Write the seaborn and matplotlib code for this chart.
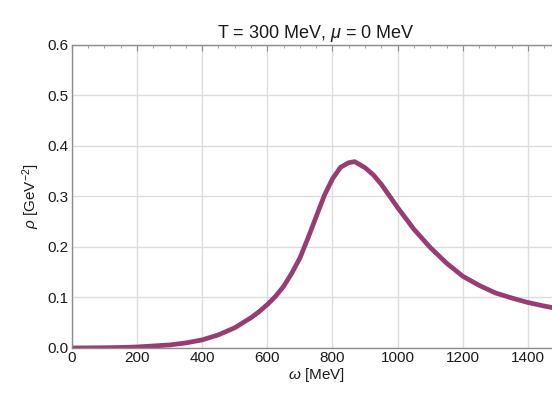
import matplotlib
matplotlib.use("Agg")
import matplotlib.pyplot as plt
from matplotlib.ticker import MultipleLocator
import seaborn as sns
import pandas as pd

# spectral function
omega = [0, 50, 100, 150, 200, 250, 300, 350, 400, 450, 500, 550, 575, 600,
         625, 650, 675, 700, 725, 750, 775, 800, 825, 850, 868, 900, 925, 950,
         1000, 1050, 1100, 1150, 1200, 1250, 1300, 1350, 1400, 1450, 1500]
rho = [0.0, 0.0002, 0.0005, 0.001, 0.002, 0.004, 0.006, 0.010, 0.016, 0.026,
       0.040, 0.060, 0.072, 0.086, 0.102, 0.122, 0.148, 0.178, 0.218, 0.260,
       0.302, 0.335, 0.358, 0.367, 0.369, 0.357, 0.343, 0.324, 0.278, 0.235,
       0.199, 0.168, 0.142, 0.124, 0.109, 0.099, 0.090, 0.083, 0.077]

x_ticks = [0, 200, 400, 600, 800, 1000, 1200, 1400]
y_ticks = [0.0, 0.1, 0.2, 0.3, 0.4, 0.5, 0.6]

sns.set_style("white")
plt.rcParams['font.family'] = ['Liberation Sans', 'DejaVu Sans']
plt.rcParams['mathtext.fontset'] = 'custom'
plt.rcParams['mathtext.it'] = 'Liberation Sans:italic'
plt.rcParams['mathtext.rm'] = 'Liberation Sans'

df = pd.DataFrame({'omega': omega, 'rho': rho})

fig = plt.figure(figsize=(5.52, 3.94), dpi=100)
ax = fig.add_axes([0.130, 0.1168, 0.8856, 0.769])

sns.lineplot(data=df, x='omega', y='rho', ax=ax, color='#973d72', linewidth=3.4,
             solid_joinstyle='round')

ax.set_xlim(0, 1500)
ax.set_ylim(0, 0.6)
ax.set_xticks(x_ticks)
ax.set_yticks(y_ticks)
ax.set_yticklabels([f"{v:.1f}" for v in y_ticks])
ax.xaxis.set_minor_locator(MultipleLocator(50))
ax.yaxis.set_minor_locator(MultipleLocator(0.02))

ax.grid(True, which='major', color='#dcdcdc', linewidth=1.0)
ax.set_axisbelow(True)
for s in ax.spines.values():
    s.set_color('#8c8c8c')
    s.set_linewidth(1.0)
ax.tick_params(which='both', direction='in', color='#8c8c8c', top=True,
               right=True, labelsize=11, pad=2, labelcolor='#1a1a1a')
ax.tick_params(which='major', length=4, width=0.8)
ax.tick_params(which='minor', length=2, width=0.6)

ax.set_xlabel(r'$\omega$ [MeV]', fontsize=11, labelpad=1, color='#1a1a1a')
ax.set_ylabel(r'$\rho$ [GeV$^{-2}$]', fontsize=11, labelpad=4, color='#1a1a1a')
ax.set_title(r'T = 300 MeV, $\mu$ = 0 MeV', fontsize=13, pad=5, color='#1a1a1a')

fig.savefig('out.png', dpi=100)
